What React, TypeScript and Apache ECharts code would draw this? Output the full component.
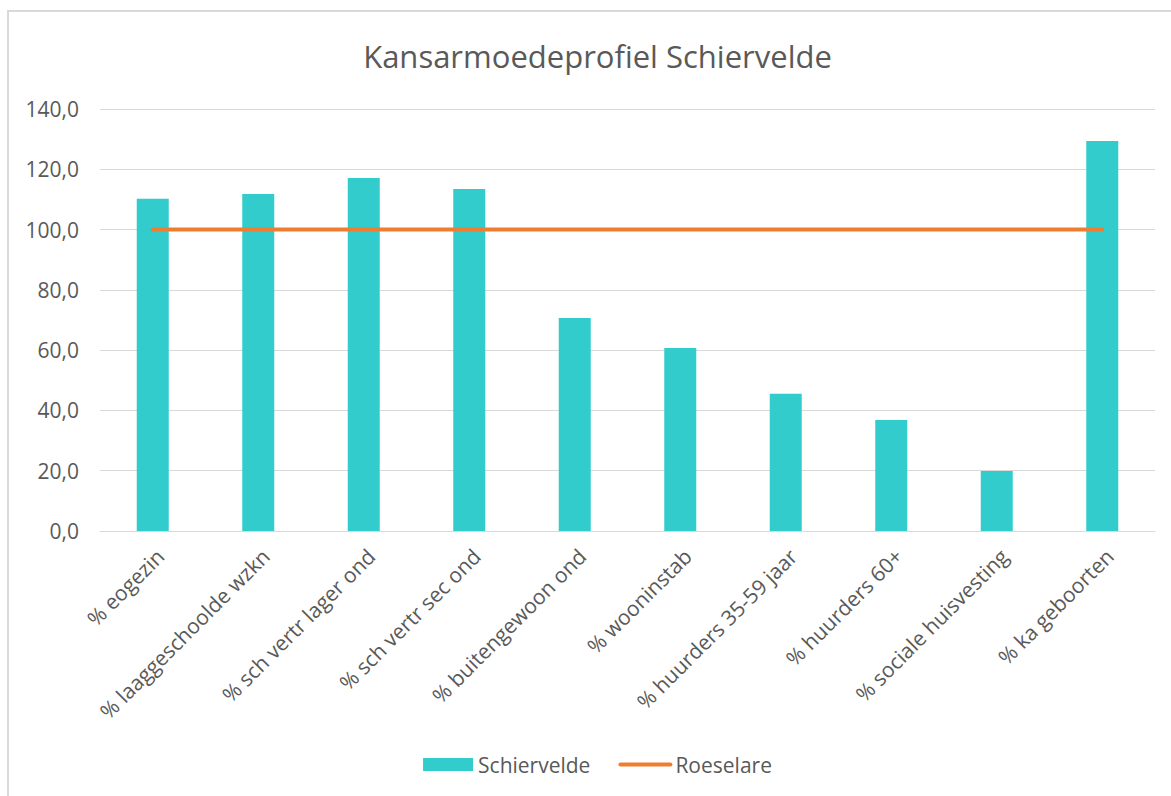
import React, { useEffect, useRef } from "react";
import * as echarts from "echarts";

const categories = [
  "% eogezin",
  "% laaggeschoolde wzkn",
  "% sch vertr lager ond",
  "% sch vertr sec ond",
  "% buitengewoon ond",
  "% wooninstab",
  "% huurders 35-59 jaar",
  "% huurders 60+",
  "% sociale huisvesting",
  "% ka geboorten",
];
const schiervelde = [110.2, 111.8, 117.1, 113.5, 70.7, 60.7, 45.5, 36.8, 19.9, 129.4];
const roeselare = [100, 100, 100, 100, 100, 100, 100, 100, 100, 100];
const yTicks = { min: 0, max: 140, interval: 20 };

const FONT = "'Open Sans', 'Noto Sans', sans-serif";
const GREY = "#595959";
const CHART_W = 1195;

export default function App() {
  const ref = useRef<HTMLDivElement>(null);
  useEffect(() => {
    if (!ref.current) return;
    const chart = echarts.init(ref.current, null, { renderer: "svg" });
    chart.setOption({
      animation: false,
      backgroundColor: "#ffffff",
      textStyle: { fontFamily: FONT },
      title: {
        text: "Kansarmoedeprofiel Schiervelde",
        left: "center",
        top: 35,
        textStyle: { fontFamily: FONT, fontSize: 31, fontWeight: "normal", color: GREY },
      },
      graphic: [
        {
          type: "rect",
          shape: { x: 8, y: 11, width: 1400, height: 900 },
          style: { fill: "none", stroke: "#d9d9d9", lineWidth: 2 },
          silent: true,
        },
      ],
      grid: { left: 100, right: CHART_W - 1155, top: 109, bottom: 265, containLabel: false },
      legend: {
        bottom: 16,
        left: "center",
        itemWidth: 50,
        itemHeight: 13,
        itemGap: 28,
        textStyle: { fontFamily: FONT, fontSize: 21, color: GREY },
        data: [
          { name: "Schiervelde", icon: "rect" },
          {
            name: "Roeselare",
            itemStyle: { opacity: 0 },
            lineStyle: { width: 4, cap: "round", color: "#ED7D31" },
          },
        ],
      },
      xAxis: {
        type: "category",
        data: categories,
        axisLine: { lineStyle: { color: "#d9d9d9", width: 1 } },
        axisTick: { show: false },
        axisLabel: {
          rotate: 45,
          interval: 0,
          margin: 14,
          verticalAlign: "top",
          fontFamily: FONT,
          fontSize: 21,
          color: GREY,
        },
      },
      yAxis: {
        type: "value",
        min: yTicks.min,
        max: yTicks.max,
        interval: yTicks.interval,
        axisLine: { show: false },
        axisTick: { show: false },
        splitLine: { lineStyle: { color: "#d9d9d9", width: 1 } },
        axisLabel: {
          margin: 21,
          fontFamily: FONT,
          fontSize: 21,
          color: GREY,
          formatter: (v: number) => v.toFixed(1).replace(".", ","),
        },
      },
      series: [
        {
          name: "Schiervelde",
          type: "bar",
          data: schiervelde,
          barWidth: 32,
          itemStyle: { color: "#33CCCC" },
        },
        {
          name: "Roeselare",
          type: "line",
          data: roeselare,
          symbol: "none",
          lineStyle: { color: "#ED7D31", width: 4, cap: "round" },
          itemStyle: { color: "#ED7D31" },
        },
      ],
    });
    return () => chart.dispose();
  }, []);
  return (
    <div
      ref={ref}
      style={{ position: "fixed", left: 0, top: 0, width: CHART_W, height: 796 }}
    />
  );
}
